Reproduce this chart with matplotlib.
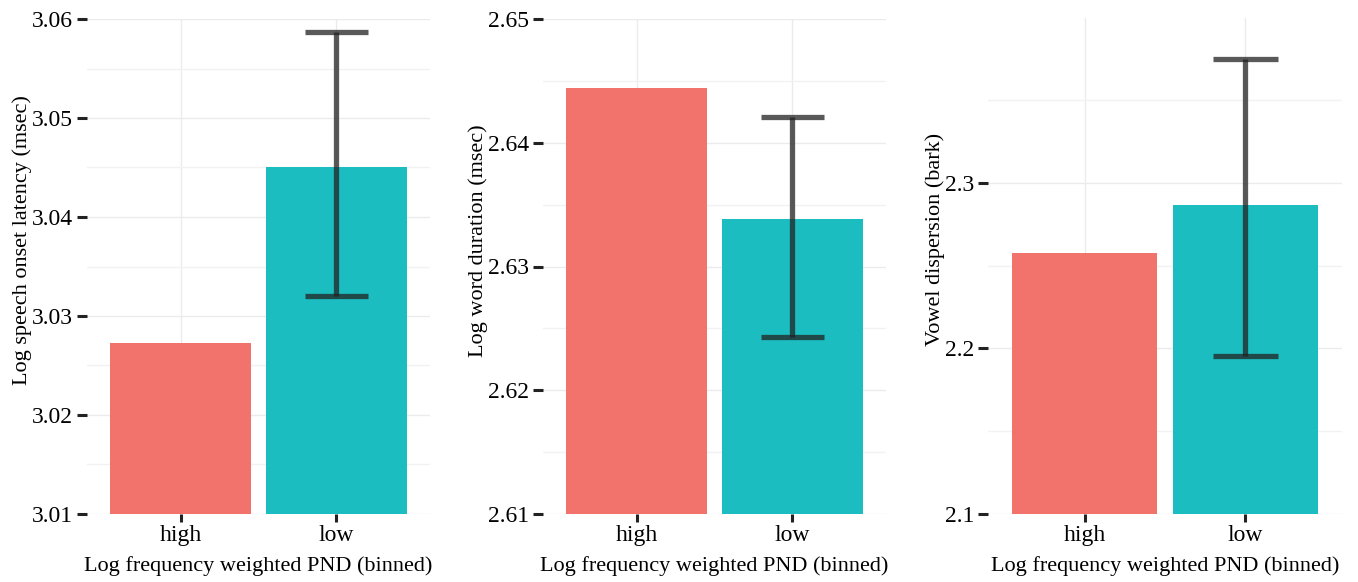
import matplotlib
matplotlib.use("Agg")
import matplotlib.pyplot as plt
import numpy as np
from matplotlib.ticker import MultipleLocator

plt.rcParams['font.family'] = ['Liberation Serif', 'DejaVu Serif']

categories = ["high", "low"]
xlabel = "Log frequency weighted PND (binned)"

ylabels = ["Log speech onset latency (msec)", "Log word duration (msec)", "Vowel dispersion (bark)"]
latency_means = [3.0273, 3.0451]
latency_err_lo = [None, 3.0320]
latency_err_hi = [None, 3.0587]
duration_means = [2.6444, 2.6338]
duration_err_lo = [None, 2.6243]
duration_err_hi = [None, 2.6421]
vowel_means = [2.2576, 2.2867]
vowel_err_lo = [None, 2.1952]
vowel_err_hi = [None, 2.3745]

panels = [
    (latency_means, latency_err_lo, latency_err_hi, (3.01, 3.06), 0.01, [87, 343, 19]),
    (duration_means, duration_err_lo, duration_err_hi, (2.61, 2.65), 0.01, [543, 343, 19]),
    (vowel_means, vowel_err_lo, vowel_err_hi, (2.1, 2.3995), 0.1, [988, 354, 18]),
]
colors = ["#F2736C", "#1BBDC0"]

W, H = 1358, 582
fig = plt.figure(figsize=(W / 100, H / 100), dpi=100)
bottom_px = 514

for i, (means, elo, ehi, ylim, step, (lp, wp, tp)) in enumerate(panels):
    ax = fig.add_axes([lp / W, (H - bottom_px) / H, wp / W, (bottom_px - tp) / H])
    x = np.arange(1, len(categories) + 1)
    ax.set_axisbelow(True)
    ax.bar(x, [m - ylim[0] for m in means], bottom=ylim[0], width=0.9, color=colors, zorder=2)
    for xi, lo, hi in zip(x, elo, ehi):
        if lo is None:
            continue
        ax.plot([xi, xi], [lo, hi], color="#222222", alpha=0.75, lw=3.8, solid_capstyle="butt", zorder=3)
        for yv in (lo, hi):
            ax.plot([xi - 0.2, xi + 0.2], [yv, yv], color="#222222", alpha=0.75, lw=3.8,
                    solid_capstyle="butt", zorder=3)
    ax.set_xlim(0.4, 2.6)
    ax.set_ylim(*ylim)
    ax.set_xticks(x)
    ax.set_xticklabels(categories, fontsize=17)
    ax.yaxis.set_major_locator(MultipleLocator(step))
    ax.yaxis.set_minor_locator(MultipleLocator(step / 2))
    ax.yaxis.set_major_formatter(matplotlib.ticker.FormatStrFormatter('%.2f' if step < 0.05 else '%.1f'))
    ax.tick_params(axis='y', which='major', length=7, width=2.2, labelsize=17, color='#222222', pad=3)
    ax.tick_params(axis='y', which='minor', length=0)
    ax.tick_params(axis='x', length=6, width=2.2, color='#222222', pad=2)
    ax.grid(True, which='major', color='#EBEBEB', lw=1.0)
    ax.grid(True, which='minor', axis='y', color='#F2F2F2', lw=1.0)
    for s in ax.spines.values():
        s.set_visible(False)
    ax.set_xlabel(xlabel, fontsize=16, labelpad=7.5)
    ax.set_ylabel(ylabels[i], fontsize=16, labelpad=0)
    ax.yaxis.label.set_y(0.553)

fig.savefig("out.png", dpi=100)
